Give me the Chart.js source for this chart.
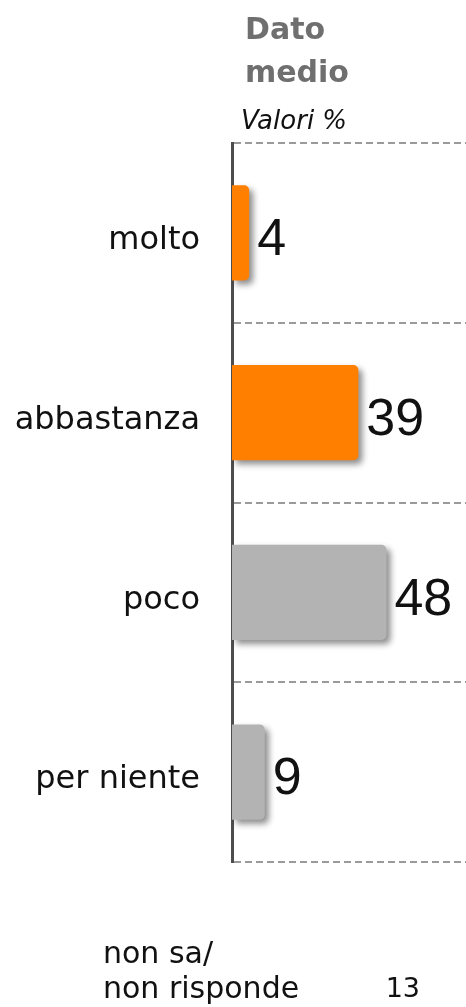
<!DOCTYPE html>
<html>
<head>
<meta charset="utf-8">
<script src="https://cdn.jsdelivr.net/npm/chart.js@4"></script>
<style>
  html, body { margin: 0; padding: 0; background: #fff; }
  #wrap { position: relative; width: 466px; height: 1007px; font-family: "DejaVu Sans", sans-serif; }
  #wrap canvas { position: absolute; left: 0; top: 0; }
  .txt { position: absolute; white-space: nowrap; }
  .head { left: 245px; font-size: 30px; line-height: 30px; font-weight: bold; color: #6f6f6f; }
  .sub { left: 241px; top: 107px; font-size: 26px; line-height: 26px; font-style: italic; color: #111; }
  .nsnr { left: 103px; font-size: 30px; line-height: 30px; color: #111; }
  .nsnrVal { right: 46px; top: 973px; font-size: 27px; line-height: 30px; color: #111; }
</style>
</head>
<body>
<div id="wrap">
  <canvas id="chart"></canvas>
  <div class="txt head" style="top:14px">Dato</div>
  <div class="txt head" style="top:57px">medio</div>
  <div class="txt sub">Valori %</div>
  <div class="txt nsnr" style="top:938px">non sa/</div>
  <div class="txt nsnr" style="top:973px">non risponde</div>
  <div class="txt nsnrVal" id="nsnrVal"></div>
</div>
<script>
const categories = ['molto', 'abbastanza', 'poco', 'per niente'];
const values = [4, 39, 48, 9];
const barColors = ['#ff7f00', '#ff7f00', '#b3b3b3', '#b3b3b3'];
const nonSaValue = 13;

document.getElementById('nsnrVal').textContent = nonSaValue;

const axisMin = -1.5;

// soft drop shadow behind the bars
const barShadow = {
  id: 'barShadow',
  beforeDatasetsDraw(chart) {
    const ctx = chart.ctx;
    ctx.save();
    ctx.shadowColor = 'rgba(0, 0, 0, 0.45)';
    ctx.shadowBlur = 6;
    ctx.shadowOffsetX = 4;
    ctx.shadowOffsetY = 4;
  },
  afterDatasetsDraw(chart) {
    chart.ctx.restore();
  },
};

// big value next to each bar
const valueLabels = {
  id: 'valueLabels',
  afterDatasetsDraw(chart) {
    const ctx = chart.ctx;
    const meta = chart.getDatasetMeta(0);
    ctx.save();
    ctx.font = '52px "Liberation Sans"';
    ctx.fillStyle = '#111';
    ctx.textAlign = 'left';
    ctx.textBaseline = 'middle';
    meta.data.forEach((bar, i) => {
      ctx.fillText(String(values[i]), bar.x + 8, bar.y + 8);
    });
    ctx.restore();
  },
};

new Chart(document.getElementById('chart'), {
  type: 'bar',
  data: {
    labels: categories,
    datasets: [{
      data: values,
      backgroundColor: barColors,
      borderRadius: 5,
      borderSkipped: 'start',
      base: axisMin,
      barPercentage: 0.53,
      categoryPercentage: 1,
    }],
  },
  options: {
    indexAxis: 'y',
    responsive: true,
    maintainAspectRatio: false,
    animation: false,
    layout: { padding: { top: 143, bottom: 145, left: 0, right: 0 } },
    plugins: {
      legend: { display: false },
      tooltip: { enabled: false },
    },
    scales: {
      x: {
        display: false,
        min: axisMin,
        max: 73.5,
      },
      y: {
        afterFit(scale) { scale.width = 232; },
        ticks: {
          padding: 32,
          labelOffset: 8,
          color: '#111',
          font: { family: '"DejaVu Sans"', size: 32 },
        },
        grid: {
          offset: true,
          drawTicks: false,
          color: '#9a9a9a',
          lineWidth: 2,
        },
        border: {
          display: true,
          color: '#4d4d4d',
          width: 3,
          dash: [7, 4],
        },
      },
    },
  },
  plugins: [barShadow, valueLabels],
});
</script>
</body>
</html>
